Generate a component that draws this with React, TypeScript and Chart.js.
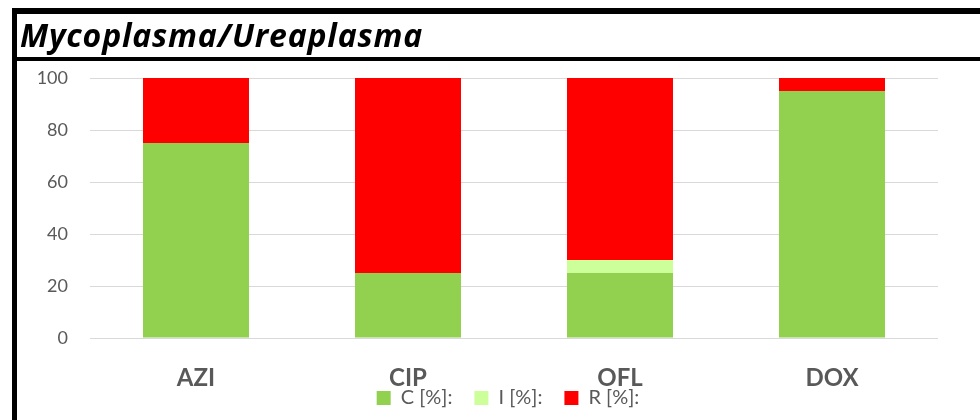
import React, { useEffect, useRef } from "react";
import { Chart, registerables } from "chart.js";

Chart.register(...registerables);

const categories = ["AZI", "CIP", "OFL", "DOX"];
const seriesC = [75, 25, 25, 95];
const seriesI = [0, 0, 5, 0];
const seriesR = [25, 75, 70, 5];
const yTicks = [0, 20, 40, 60, 80, 100];
const titleText = "Mycoplasma/Ureaplasma";
const seriesNames = ["C [%]:", "I [%]:", "R [%]:"];

const FONT = "Lato, 'Open Sans', sans-serif";

const framePlugin = {
  id: "frame",
  afterLayout(chart: any) {
    const lg = chart.legend;
    if (lg) {
      const h = lg.bottom - lg.top;
      lg.top = 366;
      lg.bottom = 366 + h;
      lg.left += 39;
      lg.right += 39;
    }
  },
  afterDraw(chart: any) {
    const ctx = chart.ctx;
    ctx.save();
    ctx.fillStyle = "#000";
    ctx.fillRect(12, 8, 968, 6);
    ctx.fillRect(12, 8, 5, 412);
    ctx.fillRect(12, 57, 968, 4);
    ctx.font = `italic bold 32px 'Open Sans', sans-serif`;
    (ctx as any).letterSpacing = "0.8px";
    ctx.textBaseline = "alphabetic";
    ctx.textAlign = "left";
    ctx.fillText(titleText, 20, 47);
    ctx.restore();
  },
};

export default function App() {
  const ref = useRef<HTMLCanvasElement>(null);
  useEffect(() => {
    if (!ref.current) return;
    const chart = new Chart(ref.current, {
      type: "bar",
      data: {
        labels: categories,
        datasets: [
          { label: seriesNames[0], data: seriesC, backgroundColor: "#92D050", barPercentage: 0.5, categoryPercentage: 1 },
          { label: seriesNames[1], data: seriesI, backgroundColor: "#CCFF99", barPercentage: 0.5, categoryPercentage: 1 },
          { label: seriesNames[2], data: seriesR, backgroundColor: "#FF0000", barPercentage: 0.5, categoryPercentage: 1 },
        ],
      },
      options: {
        responsive: false,
        animation: false,
        devicePixelRatio: 1,
        layout: { padding: { left: 0, right: 42, top: 78, bottom: -20 } },
        plugins: {
          legend: {
            position: "bottom",
            labels: {
              boxWidth: 14,
              boxHeight: 14,
              padding: 22,
              color: "#595959",
              font: { family: FONT, size: 20 },
            },
          },
          tooltip: { enabled: false },
        },
        scales: {
          x: {
            stacked: true,
            grid: { display: false, drawTicks: false },
            border: { display: false },
            ticks: { color: "#595959", font: { family: FONT, size: 24, weight: "bold" }, padding: 26 },
            afterFit(scale: any) {
              scale.height = 50;
            },
          },
          y: {
            stacked: true,
            min: 0,
            max: 100,
            afterBuildTicks(scale: any) {
              scale.ticks = yTicks.map((v) => ({ value: v }));
            },
            grid: { color: "#d9d9d9", lineWidth: 1, drawTicks: false },
            border: { display: false },
            ticks: { color: "#595959", font: { family: FONT, size: 18 }, padding: 22 },
            afterFit(scale: any) {
              scale.width = 90;
            },
          },
        },
      },
      plugins: [framePlugin],
    } as any);
    return () => chart.destroy();
  }, []);
  return (
    <div style={{ position: "absolute", left: 0, top: 0, width: 980, height: 420, background: "#fff" }}>
      <canvas ref={ref} width={980} height={420} />
    </div>
  );
}
